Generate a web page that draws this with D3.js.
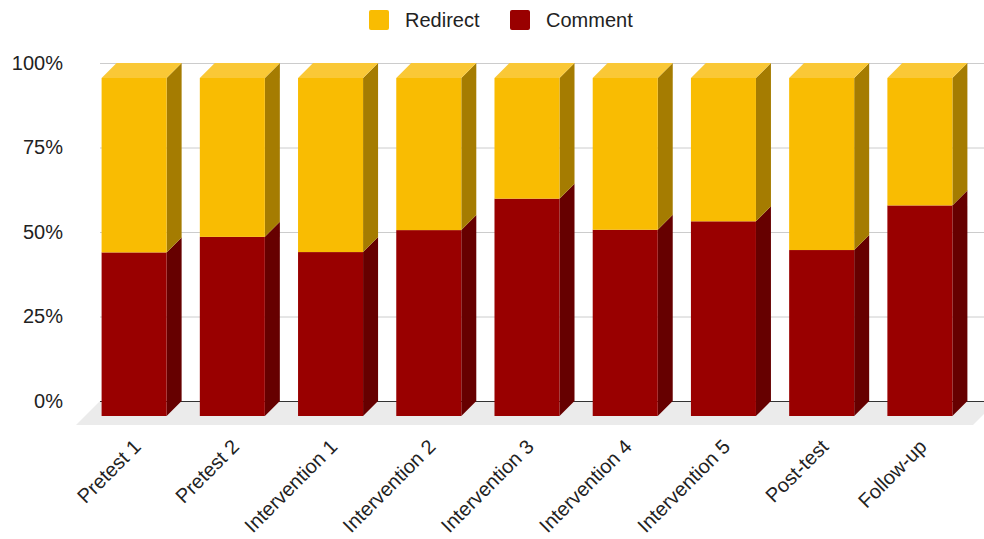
<!DOCTYPE html>
<html>
<head>
<meta charset="utf-8">
<script src="https://cdn.jsdelivr.net/npm/d3@7"></script>
<style>
  html, body { margin: 0; padding: 0; background: #fff; }
  svg { display: block; font-family: "Liberation Sans", Arial, sans-serif; }
</style>
</head>
<body>
<svg id="chart" width="984" height="539"></svg>
<script>
// Share of each response type per session (percent)
const categories = ["Pretest 1", "Pretest 2", "Intervention 1", "Intervention 2", "Intervention 3",
                    "Intervention 4", "Intervention 5", "Post-test", "Follow-up"];
const commentPct  = [48.4, 53.0, 48.5, 55.0, 64.3, 55.1, 57.6, 49.1, 62.3];
const redirectPct = [51.6, 47.0, 51.5, 45.0, 35.7, 44.9, 42.4, 50.9, 37.7];
const seriesNames = ["Redirect", "Comment"];
const yTicks = [0, 25, 50, 75, 100];

// Stacking order bottom-to-top: Comment, then Redirect
const rows = categories.map((c, i) => ({ cat: c, Comment: commentPct[i], Redirect: redirectPct[i] }));
const stacked = d3.stack().keys(["Comment", "Redirect"])
  .offset(d3.stackOffsetExpand)(rows);

const palette = {
  Redirect: { front: "#f9bc02", side: "#a57c01", top: "#fac836" },
  Comment:  { front: "#990000", side: "#660000", top: "#b23333" }
};

const svg = d3.select("#chart");
const depth = 15;      // 3D offset of the front face (down-left)
const floorDepth = 24;

const x = d3.scaleBand().domain(categories).range([100, 984])
  .paddingInner(0.338).paddingOuter(0.169);
const y = d3.scaleLinear().domain([0, 1]).range([401, 63]);

// Floor
const y0 = y(0);
svg.append("path")
  .attr("d", `M100,${y0} L997,${y0} L${997 - floorDepth},${y0 + floorDepth} L${100 - floorDepth},${y0 + floorDepth} Z`)
  .attr("fill", "#ebebeb");

// Gridlines on the back wall
svg.append("g").selectAll("line")
  .data(yTicks.filter(t => t > 0))
  .join("line")
  .attr("x1", 100).attr("x2", 984)
  .attr("y1", d => y(d / 100) + 0.5).attr("y2", d => y(d / 100) + 0.5)
  .attr("stroke", "#cccccc").attr("stroke-width", 1);

// Baseline
svg.append("line")
  .attr("x1", 100).attr("x2", 984)
  .attr("y1", y0 + 0.5).attr("y2", y0 + 0.5)
  .attr("stroke", "#333333").attr("stroke-width", 1);

// Y axis labels
const yAxis = d3.axisLeft(y).tickValues(yTicks.map(t => t / 100))
  .tickFormat(d => Math.round(d * 100) + "%").tickSize(0).tickPadding(0);
const yg = svg.append("g").attr("transform", "translate(63,0)").call(yAxis);
yg.select(".domain").remove();
yg.selectAll("text").attr("font-size", 20).attr("fill", "#222")
  .attr("font-family", "Liberation Sans, Arial, sans-serif");

// Bars: front face, right side face, and top face on the upper segment
const barG = svg.append("g");
stacked.forEach((layer, li) => {
  const col = palette[layer.key];
  layer.forEach((seg, i) => {
    const cat = categories[i];
    const bx = x(cat) - depth;          // front face left edge
    const bw = x.bandwidth();
    const yt = y(seg[1]) + depth;       // front face top
    const yb = y(seg[0]) + depth;       // front face bottom
    const g = barG.append("g");
    g.append("path")
      .attr("d", `M${bx + bw},${yt} L${bx + bw + depth},${yt - depth} L${bx + bw + depth},${yb - depth} L${bx + bw},${yb} Z`)
      .attr("fill", col.side);
    if (li === stacked.length - 1) {
      g.append("path")
        .attr("d", `M${bx},${yt} L${bx + depth},${yt - depth} L${bx + bw + depth},${yt - depth} L${bx + bw},${yt} Z`)
        .attr("fill", col.top);
    }
    g.append("rect")
      .attr("x", bx).attr("y", yt)
      .attr("width", bw).attr("height", yb - yt)
      .attr("fill", col.front);
  });
});

// X axis labels, rotated
const xAxis = d3.axisBottom(x).tickSize(0).tickPadding(0);
const xg = svg.append("g").attr("transform", "translate(-7,448)").call(xAxis);
xg.select(".domain").remove();
xg.selectAll("text")
  .attr("font-size", 20).attr("fill", "#222")
  .attr("font-family", "Liberation Sans, Arial, sans-serif")
  .attr("text-anchor", "end")
  .attr("dy", "0")
  .attr("transform", "rotate(-45)");

// Legend
const legend = svg.append("g");
const legendItems = [
  { name: seriesNames[0], color: palette.Redirect.front, x: 369 },
  { name: seriesNames[1], color: palette.Comment.front,  x: 510 }
];
legendItems.forEach(it => {
  legend.append("rect").attr("x", it.x).attr("y", 10).attr("width", 20).attr("height", 20)
    .attr("rx", 2).attr("fill", it.color);
  legend.append("text").attr("x", it.x + 36).attr("y", 20).attr("dy", "0.35em")
    .attr("font-size", 20).attr("fill", "#222").text(it.name);
});
</script>
</body>
</html>
